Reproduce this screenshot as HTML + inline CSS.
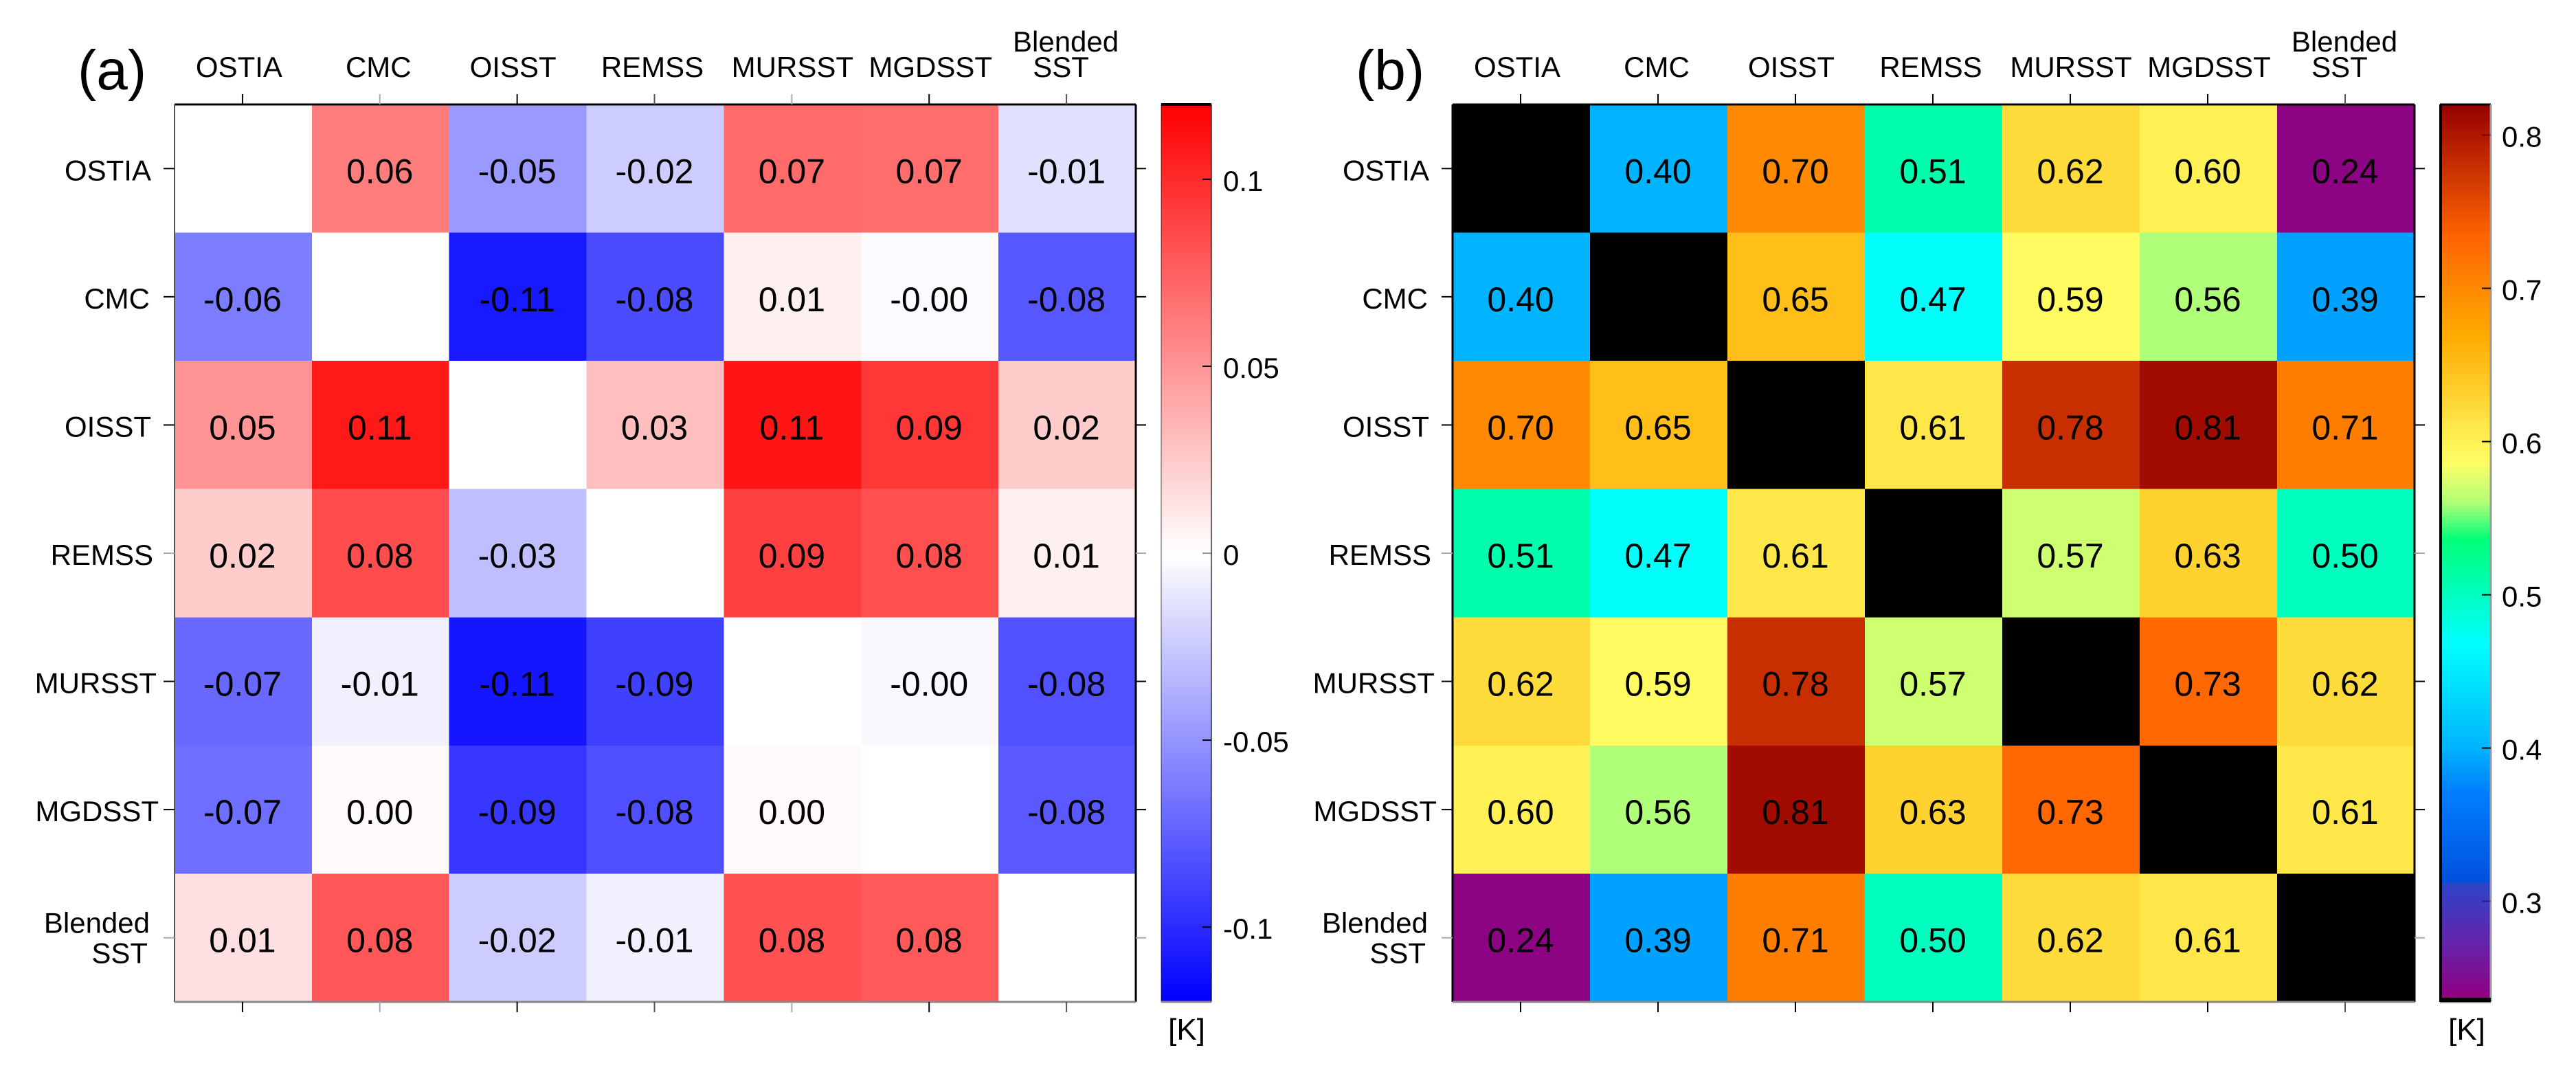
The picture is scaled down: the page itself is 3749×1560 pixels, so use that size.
<!DOCTYPE html>
<html lang="en">
<head>
<meta charset="utf-8">
<title>SST product difference matrices</title>
<style>
html,body{margin:0;padding:0;background:#fff;width:3749px;height:1560px;overflow:hidden}
svg{display:block}
text{font-family:"Liberation Sans",Arial,sans-serif;fill:#000}
</style>
</head>
<body>
<svg id="figure" xmlns="http://www.w3.org/2000/svg" width="3749" height="1560" viewBox="0 0 3749 1560">
  <rect x="0" y="0" width="3749" height="1560" fill="#ffffff"/>
  <text x="113" y="130" font-size="82">(a)</text>
  <text x="1973" y="130" font-size="82">(b)</text>
  <text x="1727" y="1513" font-size="44" text-anchor="middle">[K]</text>
  <text x="3590" y="1513" font-size="44" text-anchor="middle">[K]</text>
  <g id="panelA"></g>
  <g id="panelB"></g>
</svg>
<script>
// Categories
const categories = ['OSTIA', 'CMC', 'OISST', 'REMSS', 'MURSST', 'MGDSST', 'Blended SST'];

// Panel (a) values by row
const meanOSTIA   = [null, 0.061, -0.048, -0.024, 0.0696, 0.0685, -0.0145];
const meanCMC     = [-0.0615, null, -0.108, -0.084, 0.007, -0.002, -0.079];
const meanOISST   = [0.0504, 0.108, null, 0.030, 0.110, 0.094, 0.024];
const meanREMSS   = [0.024, 0.084, -0.030, null, 0.090, 0.083, 0.007];
const meanMURSST  = [-0.071, -0.007, -0.110, -0.090, null, -0.003, -0.082];
const meanMGDSST  = [-0.068, 0.002, -0.094, -0.083, 0.003, null, -0.078];
const meanBlended = [0.0145, 0.079, -0.024, -0.007, 0.082, 0.078, null];

// Panel (b) values by row
const rmsOSTIA   = [null, 0.40, 0.70, 0.51, 0.62, 0.60, 0.24];
const rmsCMC     = [0.40, null, 0.65, 0.47, 0.59, 0.56, 0.39];
const rmsOISST   = [0.70, 0.65, null, 0.61, 0.78, 0.81, 0.71];
const rmsREMSS   = [0.51, 0.47, 0.61, null, 0.57, 0.63, 0.50];
const rmsMURSST  = [0.62, 0.59, 0.78, 0.57, null, 0.73, 0.62];
const rmsMGDSST  = [0.60, 0.56, 0.81, 0.63, 0.73, null, 0.61];
const rmsBlended = [0.24, 0.39, 0.71, 0.50, 0.62, 0.61, null];

// Colour bar ticks
const meanBarTicks = [0.1, 0.05, 0, -0.05, -0.1];
const meanBarTickLabels = ['0.1', '0.05', '0', '-0.05', '-0.1'];
const rmsBarTicks = [0.8, 0.7, 0.6, 0.5, 0.4, 0.3];
const rmsBarTickLabels = ['0.8', '0.7', '0.6', '0.5', '0.4', '0.3'];

// Colour bar ranges
const meanRange = [-0.12, 0.12];
const rmsRange = [0.237, 0.82];

const meanMatrix = [meanOSTIA, meanCMC, meanOISST, meanREMSS, meanMURSST, meanMGDSST, meanBlended];
const rmsMatrix = [rmsOSTIA, rmsCMC, rmsOISST, rmsREMSS, rmsMURSST, rmsMGDSST, rmsBlended];

const SVGNS = 'http://www.w3.org/2000/svg';
function make(tag, attrs, parent) {
  const node = document.createElementNS(SVGNS, tag);
  Object.keys(attrs).forEach(function (k) { node.setAttribute(k, attrs[k]); });
  parent.appendChild(node);
  return node;
}
function toHex(c) { return Math.max(0, Math.min(255, Math.round(c))).toString(16).padStart(2, '0'); }

function meanColor(v) {
  if (v === null) return '#ffffff';
  const t = Math.min(1, Math.abs(v) / meanRange[1]);
  const s = toHex(255 * (1 - t));
  return v >= 0 ? '#ff' + s + s : '#' + s + s + 'ff';
}

const rmsRamp = [
  [0.82, 150, 0, 0], [0.7336, 255, 100, 0], [0.6695, 255, 170, 0], [0.586, 255, 255, 102],
  [0.56, 176, 255, 120], [0.536, 0, 255, 120], [0.468, 0, 255, 255], [0.40, 0, 180, 255],
  [0.3726, 0, 128, 255], [0.313, 0, 80, 221], [0.3115, 45, 68, 200], [0.27, 104, 32, 168], [0.237, 144, 0, 128]
];
function rmsColor(v) {
  if (v === null) return '#000000';
  if (v >= rmsRamp[0][0]) return '#960000';
  for (let i = 1; i < rmsRamp.length; i++) {
    const a = rmsRamp[i - 1], b = rmsRamp[i];
    if (v >= b[0]) {
      const f = (a[0] - v) / (a[0] - b[0]);
      return '#' + toHex(a[1] + (b[1] - a[1]) * f) + toHex(a[2] + (b[2] - a[2]) * f) + toHex(a[3] + (b[3] - a[3]) * f);
    }
  }
  return '#900080';
}

function drawPanel(root, cfg) {
  const n = categories.length;
  const xScale = function (i) { return cfg.x + i * (cfg.w / n); };
  const yScale = function (i) { return cfg.y + i * (cfg.h / n); };
  const barY = function (v) {
    return cfg.barY + (cfg.range[1] - v) / (cfg.range[1] - cfg.range[0]) * cfg.barH;
  };
  // label placement nudges, per axis slot
  const topNudge = [-6, -3, -7, -4, 0, 1, -2];
  const leftGap = [34, 36, 34, 31, 26, 23, 36];

  // Heatmap cells
  cfg.matrix.forEach(function (row, r) {
    row.forEach(function (value, c) {
      const cell = make('rect', {
        x: xScale(c), y: yScale(r), width: cfg.w / n + 0.5, height: cfg.h / n + 0.5,
        fill: cfg.color(value), 'shape-rendering': 'crispEdges'
      }, root);
      
      
      if (value !== null) {
        const label = make('text', {
          x: xScale(c + 0.5) - 1, y: yScale(r + 0.5) + 21, 'font-size': 50, 'text-anchor': 'middle'
        }, root);
        label.textContent = value.toFixed(2);
        
        
      }
    });
  });

  // Frame
  const sides = [
    [cfg.x, cfg.y, cfg.x + cfg.w, cfg.y, '#000', 3],
    [cfg.x, cfg.y, cfg.x, cfg.y + cfg.h, cfg.leftFrame, cfg.leftFrameW],
    [cfg.x + cfg.w, cfg.y, cfg.x + cfg.w, cfg.y + cfg.h, '#000', 3],
    [cfg.x, cfg.y + cfg.h, cfg.x + cfg.w, cfg.y + cfg.h, '#888', 3]
  ];
  sides.forEach(function (s) {
    const side = make('line', { x1: s[0], y1: s[1], x2: s[2], y2: s[3], stroke: s[4], 'stroke-width': s[5] }, root);
    
    
  });

  // Axes
  categories.forEach(function (name, i) {
    const cx = xScale(i + 0.5) - 1;
    const cy = yScale(i + 0.5);
    const xTickColor = cfg.faintX.indexOf(i) >= 0 ? '#aaa' : (cfg.midX.indexOf(i) >= 0 ? '#555' : '#000');
    const yTickColor = cfg.faintY.indexOf(i) >= 0 ? '#aaa' : '#000';
    [[cx, cfg.y - 15, cx, cfg.y], [cx, cfg.y + cfg.h, cx, cfg.y + cfg.h + 15]].forEach(function (t) {
      const tick = make('line', { x1: t[0], y1: t[1], x2: t[2], y2: t[3], stroke: xTickColor, 'stroke-width': 2 }, root);
      
      
    });
    [[cfg.x - 16, cy, cfg.x, cy], [cfg.x + cfg.w, cy, cfg.x + cfg.w + 15, cy]].forEach(function (t) {
      const tick = make('line', { x1: t[0], y1: t[1], x2: t[2], y2: t[3], stroke: yTickColor, 'stroke-width': 2 }, root);
      
      
    });

    const parts = name.split(' ');
    if (parts.length === 1) {
      const top = make('text', { x: xScale(i + 0.5) + topNudge[i], y: 112, 'font-size': 42, 'text-anchor': 'middle' }, root);
      top.textContent = name;
      
      
      const left = make('text', { x: cfg.x - leftGap[i], y: cy + 17, 'font-size': 42, 'text-anchor': 'end' }, root);
      left.textContent = name;
      
      
    } else {
      const top1 = make('text', { x: xScale(i + 0.5) + topNudge[i], y: 75, 'font-size': 42, 'text-anchor': 'middle' }, root);
      top1.textContent = parts[0];
      
      
      const top2 = make('text', { x: xScale(i + 0.5) - 9, y: 112, 'font-size': 42, 'text-anchor': 'middle' }, root);
      top2.textContent = parts[1];
      
      
      const left1 = make('text', { x: cfg.x - leftGap[i], y: cy - 7, 'font-size': 42, 'text-anchor': 'end' }, root);
      left1.textContent = parts[0];
      
      
      const left2 = make('text', { x: cfg.x - leftGap[i] - 3, y: cy + 37, 'font-size': 42, 'text-anchor': 'end' }, root);
      left2.textContent = parts[1];
      
      
    }
  });

  // Colour bar
  const bar = make('g', {}, root);
  
  
  const steps = 256;
  for (let s = 0; s < steps; s++) {
    const hi = cfg.range[1] - (cfg.range[1] - cfg.range[0]) * s / steps;
    const lo = cfg.range[1] - (cfg.range[1] - cfg.range[0]) * (s + 1) / steps;
    const mid = (hi + lo) / 2;
    const strip = make('rect', {
      x: cfg.barX, y: barY(hi), width: cfg.barW, height: barY(lo) - barY(hi) + 0.6,
      fill: cfg.color(mid), 'shape-rendering': 'crispEdges'
    }, bar);
    
    
  }
  cfg.barEdges.forEach(function (s) {
    const edge = make('line', { x1: s[0], y1: s[1], x2: s[2], y2: s[3], stroke: s[4], 'stroke-width': s[5], 'stroke-opacity': s[6] }, bar);
    
    
  });
  cfg.barTicks.forEach(function (v, i) {
    const y = barY(v);
    const tick = make('line', {
      x1: cfg.barX + cfg.barW - 13, y1: y, x2: cfg.barX + cfg.barW, y2: y,
      stroke: '#000', 'stroke-width': 2, 'stroke-opacity': cfg.barFaint.indexOf(i) >= 0 ? 0.4 : 1
    }, bar);
    
    
    const label = make('text', { x: cfg.barLabelX, y: y + 17, 'font-size': 42 }, bar);
    label.textContent = cfg.barTickLabels[i];
    
    
  });
}

drawPanel(document.getElementById('panelA'), {
  matrix: meanMatrix, color: meanColor, range: meanRange,
  barTicks: meanBarTicks, barTickLabels: meanBarTickLabels, barFaint: [2],
  x: 254, y: 152, w: 1399, h: 1306,
  leftFrame: '#555', leftFrameW: 2, faintX: [1, 4], midX: [3, 6], faintY: [3, 6],
  barX: 1690, barY: 152, barW: 73, barH: 1306, barLabelX: 1780,
  barEdges: [
    [1690, 152, 1763, 152, '#000', 4, 1],
    [1690, 152, 1690, 1458, '#000', 2, 0.35],
    [1763, 152, 1763, 1458, '#000', 2, 0.6],
    [1690, 1458, 1763, 1458, '#888', 3, 1]
  ]
});

drawPanel(document.getElementById('panelB'), {
  matrix: rmsMatrix, color: rmsColor, range: rmsRange,
  barTicks: rmsBarTicks, barTickLabels: rmsBarTickLabels, barFaint: [0, 5],
  x: 2114, y: 152, w: 1400, h: 1306,
  leftFrame: '#000', leftFrameW: 3, faintX: [], midX: [6], faintY: [3, 6],
  barX: 3551, barY: 152, barW: 74, barH: 1300, barLabelX: 3641,
  barEdges: [
    [3551, 152, 3625, 152, '#000', 3, 1],
    [3552, 152, 3552, 1458, '#000', 4, 1],
    [3625, 152, 3625, 1458, '#999', 3, 1],
    [3551, 1455, 3625, 1455, '#000', 6, 1],
    [3551, 1459, 3625, 1459, '#999', 2, 1]
  ]
});
</script>
</body>
</html>
